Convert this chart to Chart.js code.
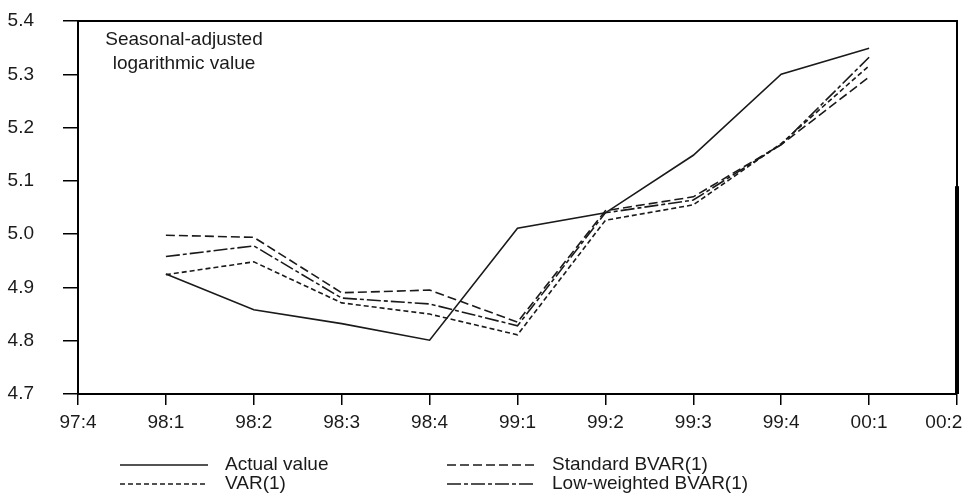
<!DOCTYPE html>
<html>
<head>
<meta charset="utf-8">
<script src="https://cdn.jsdelivr.net/npm/chart.js@4"></script>
<style>
  html, body { margin: 0; padding: 0; background: #fff; }
  #wrap { position: relative; width: 969px; height: 498px; }
</style>
</head>
<body>
<div id="wrap"><canvas id="chart" width="969" height="498"></canvas></div>
<script>
    // Kwartalen (x-as)
    const quarters = ['97:4', '98:1', '98:2', '98:3', '98:4', '99:1', '99:2', '99:3', '99:4', '00:1', '00:2'];
    const yTicks = [4.7, 4.8, 4.9, 5.0, 5.1, 5.2, 5.3, 5.4];

    // Reeksen (null = geen waarde op dat kwartaal)
    const actualValue   = [null, 4.925, 4.858, 4.832, 4.801, 5.011, 5.040, 5.148, 5.300, 5.349, null];
    const standardBvar  = [null, 4.998, 4.994, 4.890, 4.895, 4.835, 5.044, 5.070, 5.168, 5.295, null];
    const lowWeighted   = [null, 4.958, 4.978, 4.880, 4.869, 4.828, 5.040, 5.064, 5.168, 5.332, null];
    const var1          = [null, 4.924, 4.948, 4.871, 4.850, 4.811, 5.026, 5.055, 5.170, 5.316, null];

    const FONT = 'Liberation Sans, Arial, Helvetica, sans-serif';
    const INK = '#1a1a1a';

    // Extra tekst, kader en legenda
    const decorPlugin = {
        id: 'decor',
        afterDraw(chart) {
            const ctx = chart.ctx;
            const area = chart.chartArea;
            ctx.save();

            // kader boven en rechts
            ctx.strokeStyle = '#000';
            ctx.lineWidth = 2;
            ctx.beginPath();
            ctx.moveTo(area.left, area.top);
            ctx.lineTo(area.right, area.top);
            ctx.lineTo(area.right, area.bottom);
            ctx.stroke();
            const yThick = chart.scales.y.getPixelForValue(5.09);
            ctx.lineWidth = 4;
            ctx.beginPath();
            ctx.moveTo(area.right, yThick);
            ctx.lineTo(area.right, area.bottom);
            ctx.stroke();

            // annotatie linksboven
            ctx.fillStyle = INK;
            ctx.font = '19px ' + FONT;
            ctx.textAlign = 'center';
            ctx.textBaseline = 'middle';
            ctx.fillText('Seasonal-adjusted', 184, 40);
            ctx.fillText('logarithmic value', 184, 64);

            // legenda in 2 kolommen
            const slots = [
                { x: 120, y: 465 }, { x: 447, y: 465 },
                { x: 120, y: 484 }, { x: 447, y: 484 }
            ];
            const order = [0, 1, 3, 2];
            ctx.textAlign = 'left';
            ctx.font = '19px ' + FONT;
            order.forEach((dsIndex, i) => {
                const ds = chart.data.datasets[dsIndex];
                const s = slots[i];
                ctx.strokeStyle = ds.borderColor;
                ctx.lineWidth = 1.5;
                ctx.setLineDash(ds.borderDash || []);
                ctx.beginPath();
                ctx.moveTo(s.x, s.y);
                ctx.lineTo(s.x + 88, s.y);
                ctx.stroke();
                ctx.setLineDash([]);
                ctx.fillText(ds.label, s.x + 105, s.y);
            });
            ctx.restore();
        }
    };

    const ctx = document.getElementById('chart').getContext('2d');
    const chart = new Chart(ctx, {
        type: 'line',
        data: {
            labels: quarters,
            datasets: [
                { label: 'Actual value', data: actualValue, borderColor: INK, borderWidth: 1.6, borderDash: [] },
                { label: 'Standard BVAR(1)', data: standardBvar, borderColor: INK, borderWidth: 1.6, borderDash: [9, 4] },
                { label: 'Low-weighted BVAR(1)', data: lowWeighted, borderColor: INK, borderWidth: 1.6, borderDash: [14, 3, 4, 3] },
                { label: 'VAR(1)', data: var1, borderColor: INK, borderWidth: 1.6, borderDash: [5, 3] }
            ]
        },
        options: {
            responsive: false,
            animation: false,
            layout: { padding: { top: 21, right: 12, left: 0, bottom: 0 } },
            elements: { point: { radius: 0 }, line: { tension: 0 } },
            plugins: { legend: { display: false }, tooltip: { enabled: false } },
            scales: {
                x: {
                    offset: false,
                    grid: { drawOnChartArea: false, drawTicks: true, tickLength: 11, color: '#000', lineWidth: 1.5 },
                    border: { display: true, color: '#000', width: 2 },
                    ticks: {
                        color: INK, font: { family: FONT, size: 19 }, padding: 6,
                        maxRotation: 0, autoSkip: false,
                        callback: function (value, index) {
                            const lab = quarters[index];
                            return index === quarters.length - 1 ? lab + '     ' : lab;
                        }
                    },
                    afterFit(scale) {
                        scale.height = 104;
                        scale.paddingLeft = 0;
                        scale.paddingRight = 0;
                    }
                },
                y: {
                    min: 4.7,
                    max: 5.4,
                    afterBuildTicks(scale) {
                        scale.ticks = yTicks.map(v => ({ value: v }));
                    },
                    grid: { drawOnChartArea: false, drawTicks: true, tickLength: 15, color: '#000', lineWidth: 1.5 },
                    border: { display: true, color: '#000', width: 2 },
                    ticks: {
                        color: INK, font: { family: FONT, size: 19 }, padding: 29,
                        callback: v => Number(v).toFixed(1)
                    },
                    afterFit(scale) {
                        scale.width = 78;
                        scale.paddingTop = 0;
                        scale.paddingBottom = 0;
                    }
                }
            }
        },
        plugins: [decorPlugin]
    });
</script>
</body>
</html>
